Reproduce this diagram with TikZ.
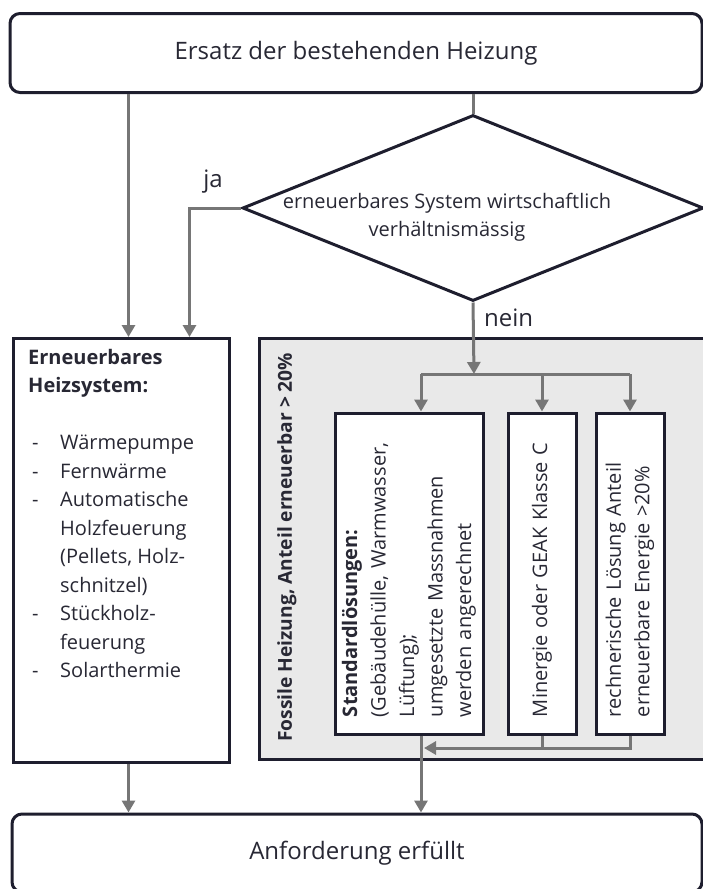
\documentclass[tikz,border=0pt]{standalone}
\usepackage{fontspec}
\setmainfont{Open Sans}
\usetikzlibrary{shapes.geometric,arrows.meta}
\definecolor{frame}{RGB}{30,30,46}
\definecolor{flow}{RGB}{118,118,118}
\definecolor{panelgray}{RGB}{233,233,233}
\definecolor{ink}{RGB}{40,40,52}
\newcommand{\listdash}{\makebox[32pt][l]{\hspace{4pt}-}}
\newcommand{\listgap}{\hspace*{32pt}}

\begin{document}
\begin{tikzpicture}[
  x=1pt, y=-1pt,
  every node/.style={text=ink, font=\fontsize{20}{28.5}\selectfont},
  endbox/.style={draw=frame, line width=3pt, rounded corners=10pt, fill=white,
    font=\fontsize{24}{28}\selectfont},
  plainbox/.style={draw=frame, line width=3pt, fill=white},
  turnbox/.style={plainbox, rotate=90, inner xsep=17pt, inner ysep=0pt,
    text width=287pt, align=left, minimum width=321pt},
  decbox/.style={draw=frame, line width=3pt, diamond, inner sep=0pt},
  link/.style={draw=flow, line width=3pt},
  arr/.style={link, -{Triangle[width=13pt,length=12pt]}},
  lbl/.style={font=\fontsize{24}{28}\selectfont}
]
\useasboundingbox (0,0) rectangle (703,889);

\node[endbox, minimum width=692pt, minimum height=79pt] (replace) at (356,53) {Ersatz der bestehenden Heizung};
\node[decbox, minimum width=461pt, minimum height=186pt] (dec) at (473,208) {};
\node[align=center, inner sep=0pt] (decq) at (447,217) {erneuerbares System wirtschaftlich\\verhältnismässig};

\node[draw=frame, line width=3pt, fill=panelgray, anchor=north west,
  minimum width=470pt, minimum height=421pt] (fossil) at (258,337) {};
\node[rotate=90, anchor=west, inner sep=0pt, font=\fontsize{19.2}{24}\selectfont\bfseries] (fossillbl) at (287,742) {Fossile Heizung, Anteil erneuerbar > 20\%};

\node[plainbox, anchor=north west, minimum width=216pt, minimum height=424pt] (renew) at (12,337) {};
\node[anchor=north west, align=left, inner sep=0pt] (renewtxt) at (28,349) {\textbf{Erneuerbares}\\\textbf{Heizsystem:}\\[28.5pt]
  \listdash Wärmepumpe\\
  \listdash Fernwärme\\
  \listdash Automatische\\
  \listgap Holzfeuerung\\
  \listgap (Pellets, Holz-\\
  \listgap schnitzel)\\
  \listdash Stückholz-\\
  \listgap feuerung\\
  \listdash Solarthermie};

\node[turnbox, minimum height=148pt] (std) at (409,573.5) {\textbf{Standardlösungen:}\\(Gebäudehülle, Warmwasser,\\Lüftung);\\umgesetzte Massnahmen\\werden angerechnet};
\node[turnbox, minimum height=68pt] (mine) at (542,573.5) {Minergie oder GEAK Klasse C};
\node[turnbox, minimum height=68pt] (calc) at (630,573.5) {rechnerische Lösung Anteil\\erneuerbare Energie >20\%};

\node[endbox, minimum width=690pt, minimum height=78pt] (done) at (357,853) {Anforderung erfüllt};

\coordinate (split) at (474,374);
\coordinate (join) at (421,748);

\draw[arr] ([xshift=7pt]renew.north |- replace.south) -- ([xshift=7pt]renew.north);
\draw[link] (replace.south -| dec.north) -- (dec.north);
\draw[arr] (dec.west) -| ([xshift=68pt]renew.north);
\node[lbl, inner sep=0pt] (yes) at (213,182) {ja};
\draw[arr] (dec.south) -- (split);
\node[lbl, anchor=west, inner sep=0pt] (no) at (484,318) {nein};
\draw[link] ([xshift=12pt]std.east |- split) -- (calc.east |- split);
\draw[arr] ([xshift=12pt]std.east |- split) -- ([xshift=12pt]std.east);
\draw[arr] (mine.east |- split) -- (mine.east);
\draw[arr] (calc.east |- split) -- (calc.east);
\draw[link] (mine.west) -- (mine.west |- join);
\draw[arr] (calc.west) |- ([xshift=3pt]join);
\draw[arr] ([xshift=12pt]std.west) -- ([xshift=12pt]std.west |- done.north);
\draw[arr] ([xshift=7pt]renew.south) -- ([xshift=7pt]renew.south |- done.north);
\end{tikzpicture}
\end{document}
